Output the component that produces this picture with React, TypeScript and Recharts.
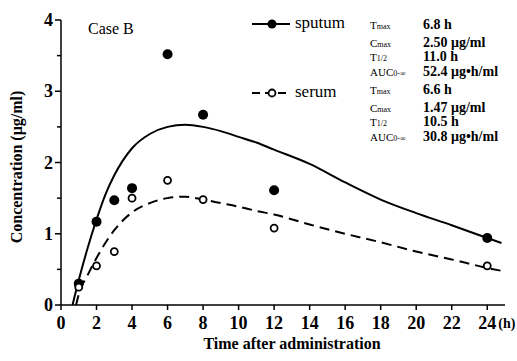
import { ComposedChart, Line, Scatter, XAxis, YAxis } from "recharts"

// observed points
const sampleTimes = [1, 2, 3, 4, 6, 8, 12, 24]
const sputumValues = [0.3, 1.17, 1.47, 1.64, 3.52, 2.67, 1.61, 0.94]
const serumValues = [0.25, 0.55, 0.75, 1.5, 1.75, 1.48, 1.08, 0.55]

// fitted curves
const sputumCurveT = [0.65, 1, 1.5, 2, 2.5, 3, 4, 5, 6, 7, 8, 9, 10, 11, 12, 14, 16, 18, 20, 22, 24, 24.8]
const sputumCurveC = [0, 0.35, 0.8, 1.2, 1.55, 1.82, 2.2, 2.4, 2.5, 2.53, 2.5, 2.44, 2.36, 2.28, 2.18, 1.98, 1.72, 1.48, 1.29, 1.12, 0.94, 0.87]
const serumCurveT = [0.85, 1, 1.5, 2, 3, 4, 5, 6, 7, 8, 9, 10, 11, 12, 14, 16, 18, 20, 22, 24, 24.8]
const serumCurveC = [0, 0.15, 0.42, 0.66, 1.05, 1.3, 1.43, 1.5, 1.52, 1.48, 1.43, 1.38, 1.32, 1.27, 1.13, 1.0, 0.88, 0.75, 0.64, 0.52, 0.48]

const xTicks = [0, 2, 4, 6, 8, 10, 12, 14, 16, 18, 20, 22, 24]
const yTicks = [0, 0.5, 1, 1.5, 2, 2.5, 3, 3.5, 4]

const sputumStats = [
  ["T", "max", "6.8 h"],
  ["C", "max", "2.50 μg/ml"],
  ["T", "1/2", "11.0 h"],
  ["AUC", "0-∞", "52.4 μg•h/ml"],
]
const serumStats = [
  ["T", "max", "6.6 h"],
  ["C", "max", "1.47 μg/ml"],
  ["T", "1/2", "10.5 h"],
  ["AUC", "0-∞", "30.8 μg•h/ml"],
]

const toPoints = (ts: number[], cs: number[]) => ts.map((t, i) => ({ t, c: cs[i] }))

const sputumPts = toPoints(sampleTimes, sputumValues)
const serumPts = toPoints(sampleTimes, serumValues)
const sputumCurve = toPoints(sputumCurveT, sputumCurveC)
const serumCurve = toPoints(serumCurveT, serumCurveC)

const FONT = "'Liberation Serif', 'DejaVu Serif', serif"

const YTick = (props: any) => {
  const { x, y, payload } = props
  const major = Number.isInteger(payload.value)
  return (
    <g>
      <line x1={x} x2={x - (major ? 6 : 4)} y1={y} y2={y} stroke="#000" strokeWidth={1.5} />
      {major && (
        <text x={x - 8} y={y} dy={6} textAnchor="end" fontFamily={FONT} fontWeight="bold" fontSize={18} fill="#000">
          {payload.value}
        </text>
      )}
    </g>
  )
}

const XTick = (props: any) => {
  const { x, y, payload } = props
  return (
    <g>
      <line x1={x} x2={x} y1={y} y2={y + 5} stroke="#000" strokeWidth={1.5} />
      <text x={x} y={y + 24} textAnchor="middle" fontFamily={FONT} fontWeight="bold" fontSize={18} fill="#000">
        {payload.value}
      </text>
      {payload.value === 24 && (
        <text x={x + 11} y={y + 23} fontFamily={FONT} fontWeight="bold" fontSize={14} fill="#000">
          (h)
        </text>
      )}
    </g>
  )
}

const FilledDot = (props: any) => <circle cx={props.cx} cy={props.cy} r={5} fill="#000" />
const OpenDot = (props: any) => (
  <circle cx={props.cx} cy={props.cy} r={3.5} fill="#fff" stroke="#000" strokeWidth={1.8} />
)

function StatBlock({ rows, top }: { rows: string[][]; top: number }) {
  const offsets = [0, 18, 32, 47]
  return (
    <>
      {rows.map((r, i) => (
        <div key={i} style={{ position: "absolute", left: 0, top: top + offsets[i], width: 517, height: 0 }}>
          <div style={{ position: "absolute", left: 370, top: -6, fontSize: 11, lineHeight: "12px", whiteSpace: "nowrap" }}>
            {r[0]}
            <span style={{ fontSize: 8 }}>{r[1]}</span>
          </div>
          <div style={{ position: "absolute", left: 423, top: -7, fontSize: 14, fontWeight: "bold", lineHeight: "14px", whiteSpace: "nowrap" }}>
            {r[2]}
          </div>
        </div>
      ))}
    </>
  )
}

export default function App() {
  return (
    <div style={{ position: "absolute", left: 0, top: 0, width: 517, height: 361, background: "#fff", fontFamily: FONT, color: "#000" }}>
      <ComposedChart width={517} height={361} margin={{ top: 20, right: 12, bottom: 26, left: 16 }}>
        <XAxis
          type="number"
          dataKey="t"
          domain={[0, 25]}
          ticks={xTicks}
          allowDataOverflow
          height={30}
          tickSize={0}
          tickMargin={0}
          tickLine={false}
          tick={<XTick />}
          axisLine={{ stroke: "#000", strokeWidth: 1.5 }}
        />
        <YAxis
          type="number"
          dataKey="c"
          domain={[0, 4]}
          ticks={yTicks}
          allowDataOverflow
          width={45}
          tickSize={0}
          tickMargin={0}
          tickLine={false}
          tick={<YTick />}
          axisLine={{ stroke: "#000", strokeWidth: 1.5 }}
        />
        <Line data={sputumCurve} dataKey="c" type="monotone" stroke="#000" strokeWidth={2} dot={false} isAnimationActive={false} />
        <Line data={serumCurve} dataKey="c" type="monotone" stroke="#000" strokeWidth={2} strokeDasharray="10 6" dot={false} isAnimationActive={false} />
        <Scatter data={sputumPts} dataKey="c" shape={<FilledDot />} isAnimationActive={false} />
        <Scatter data={serumPts} dataKey="c" shape={<OpenDot />} isAnimationActive={false} />
      </ComposedChart>

      {/* axis titles */}
      <div style={{ position: "absolute", left: 17, top: 167, transform: "translate(-50%, -50%) rotate(-90deg)", fontSize: 16, fontWeight: "bold", whiteSpace: "nowrap" }}>
        Concentration (μg/ml)
      </div>
      <div style={{ position: "absolute", left: 292, top: 344, transform: "translate(-50%, -50%)", fontSize: 16, fontWeight: "bold", whiteSpace: "nowrap" }}>
        Time after administration
      </div>

      <div style={{ position: "absolute", left: 88, top: 19, fontSize: 16, lineHeight: "20px" }}>Case B</div>

      {/* legend */}
      <svg width={40} height={20} style={{ position: "absolute", left: 252, top: 14 }}>
        <line x1={0} x2={38} y1={10} y2={10} stroke="#000" strokeWidth={2} />
        <circle cx={20} cy={10} r={4.5} fill="#000" />
      </svg>
      <div style={{ position: "absolute", left: 295, top: 13, fontSize: 17, lineHeight: "20px" }}>sputum</div>
      <svg width={40} height={20} style={{ position: "absolute", left: 252, top: 83 }}>
        <line x1={0} x2={38} y1={10} y2={10} stroke="#000" strokeWidth={2} strokeDasharray="8 5" />
        <circle cx={20} cy={10} r={3.5} fill="#fff" stroke="#000" strokeWidth={1.8} />
      </svg>
      <div style={{ position: "absolute", left: 295, top: 82, fontSize: 17, lineHeight: "20px" }}>serum</div>

      <StatBlock rows={sputumStats} top={25} />
      <StatBlock rows={serumStats} top={90} />
    </div>
  )
}
